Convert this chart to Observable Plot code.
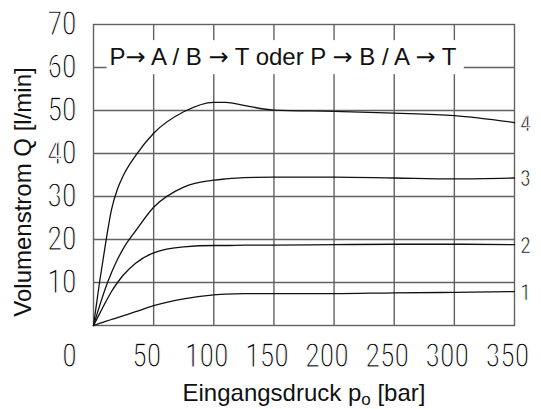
<!DOCTYPE html>
<html><head><meta charset="utf-8">
<script src="https://cdn.jsdelivr.net/npm/d3@7"></script>
<script src="https://cdn.jsdelivr.net/npm/@observablehq/plot@0.6"></script>
<style>html,body{margin:0;padding:0;background:#fff}</style>
</head><body><div id="chart"></div>
<script>
// Data
const pressure = [0, 5, 10, 15, 20, 25, 35, 50, 75, 100, 110, 125, 150, 200, 250, 300, 350];
const flow1 = [0, 0.5, 0.95, 1.4, 1.85, 2.3, 3.2, 4.6, 6.2, 7.1, 7.3, 7.4, 7.4, 7.4, 7.6, 7.7, 7.9];
const flow2 = [0, 2.7, 5.4, 7.9, 10.0, 11.8, 14.5, 16.9, 18.3, 18.6, 18.6, 18.7, 18.7, 18.8, 18.9, 18.9, 18.8];
const flow3 = [0, 4.5, 8.7, 12.3, 15.4, 18.0, 22.0, 27.5, 32.2, 33.8, 34.1, 34.4, 34.5, 34.5, 34.3, 34.1, 34.3];
const flow4 = [0, 10.0, 19.0, 27.0, 31.8, 35.0, 39.5, 44.7, 49.7, 51.9, 51.9, 51.2, 50.1, 49.8, 49.4, 48.8, 47.2];
const seriesNames = ["1", "2", "3", "4"];
const xTicks = [50, 100, 150, 200, 250, 300, 350];
const yTicks = [10, 20, 30, 40, 50, 60, 70];
const xGrid = [50, 100, 150, 200, 250, 300];
const yGrid = [10, 20, 30, 40, 50, 60];
const titleText = "P\u2192 A / B \u2192 T oder P \u2192 B / A \u2192 T";
const xTitle = "Eingangsdruck p";
const xTitleSub = "o";
const xTitleUnit = " [bar]";
const yTitle = "Volumenstrom Q [l/min]";

const flows = [flow1, flow2, flow3, flow4];
const rows = flows.flatMap((f, s) => pressure.map((p, i) => ({series: seriesNames[s], p, q: f[i]})));
const ends = flows.map((f, s) => ({series: seriesNames[s], p: pressure[pressure.length - 1], q: f[f.length - 1]}));

const gridColor = "#626262";
const tickFont = "Roboto, 'DejaVu Sans', sans-serif";

const chart = Plot.plot({
  width: 541, height: 409,
  marginLeft: 93, marginRight: 27, marginTop: 24, marginBottom: 84,
  x: {domain: [0, 350]},
  y: {domain: [0, 70]},
  style: {fontFamily: "'Liberation Sans', Arial, sans-serif", background: "#fff", color: "#000"},
  marks: [
    Plot.ruleX(xGrid, {stroke: gridColor, strokeWidth: 1.4}),
    Plot.ruleY(yGrid, {stroke: gridColor, strokeWidth: 1.4}),
    Plot.frame({stroke: gridColor, strokeWidth: 1.4}),
    Plot.line(rows, {x: "p", y: "q", z: "series", stroke: "#111", strokeWidth: 1.3, curve: "monotone-x"}),
    Plot.text([titleText], {frameAnchor: "top", dx: -21, dy: 33, lineAnchor: "middle", fontSize: 24, fill: "#111"}),
    Plot.axisX(xTicks, {tickSize: 0, tickPadding: 18, fontSize: 33, dx: -7, label: null}),
    Plot.axisX([0], {tickSize: 0, tickPadding: 18, fontSize: 33, dx: -24, label: null}),
    Plot.axisY(yTicks, {tickSize: 0, tickPadding: 17, fontSize: 33, label: null}),
    Plot.text(ends, {x: "p", y: "q", text: "series", dx: 11, dy: 1, textAnchor: "middle", lineAnchor: "middle",
      fontSize: 22, fill: "#000"}),
    Plot.text([xTitle + xTitleSub + xTitleUnit], {frameAnchor: "bottom", dx: 0, dy: 68, lineAnchor: "middle", fontSize: 24, fill: "#111"}),
    Plot.text([yTitle], {frameAnchor: "left", rotate: -90, dx: -70, dy: 17, textAnchor: "middle", lineAnchor: "middle", fontSize: 24, fill: "#111"})
  ]
});
document.getElementById("chart").appendChild(chart);

const sel = d3.select(chart);
const byText = (pred) => sel.selectAll("text").filter(function () { return pred(this.textContent); });
const tickStrings = new Set([...xTicks, ...yTicks, 0].map(String));

// thin, condensed look of the numeric tick labels
byText((s) => tickStrings.has(s)).each(function () {
  const t = this.textContent;
  this.setAttribute("textLength", t.length * 14.5);
  this.setAttribute("lengthAdjust", "spacingAndGlyphs");
  this.style.fontFamily = tickFont;
  this.style.fill = "#000";
  this.style.stroke = "#fff";
  this.style.strokeWidth = "1.25px";
  this.style.paintOrder = "normal";
});
// curve numbers
byText((s) => seriesNames.includes(s)).each(function () {
  this.setAttribute("textLength", this.textContent.length * 10);
  this.setAttribute("lengthAdjust", "spacingAndGlyphs");
  this.style.fontFamily = tickFont;
  this.style.stroke = "#fff";
  this.style.strokeWidth = "0.6px";
  this.style.paintOrder = "normal";
});
// long arrows in the title, and a white box behind it sized from its bounding box
byText((s) => s === titleText).each(function () {
  const parts = this.textContent.split("\u2192");
  const t = d3.select(this);
  t.text(null);
  parts.forEach((s, i) => {
    if (i > 0) t.append("tspan").style("font-family", "'DejaVu Sans', sans-serif").text("\u2192");
    t.append("tspan").text(s);
  });
  const b = this.getBBox();
  d3.select(this.parentNode).insert("rect", () => this)
    .attr("transform", this.getAttribute("transform"))
    .attr("x", b.x - 3).attr("width", b.width + 10)
    .attr("y", b.y - 3).attr("height", b.height + 6)
    .attr("fill", "#fff");
});
// subscript in the x title
byText((s) => s === xTitle + xTitleSub + xTitleUnit).each(function () {
  const t = d3.select(this);
  t.text(null);
  t.append("tspan").text(xTitle);
  t.append("tspan").attr("dy", 4).style("font-size", "17px").text(xTitleSub);
  t.append("tspan").attr("dy", -4).text(xTitleUnit);
});
</script>
</body></html>
